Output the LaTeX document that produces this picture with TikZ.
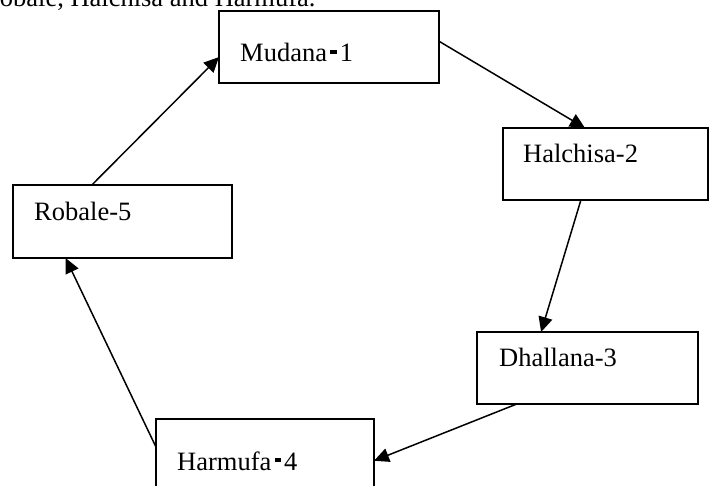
\documentclass[tikz,border=0pt]{standalone}
\usepackage{fontspec}
\setmainfont{Liberation Serif}
\usetikzlibrary{arrows.meta,calc}
\newcommand\thkdash{\kern0.12em\rule[0.3em]{0.24em}{0.15em}\kern0.12em}
\tikzset{
  boxnode/.style={draw, line width=1.8pt, anchor=north west, inner sep=0pt, outer sep=0pt},
  lbl/.style={anchor=base west, inner sep=0pt, font=\fontsize{26.5}{30}\selectfont},
  conn/.style={line width=1.5pt, -{Triangle[length=15pt,width=14pt]}}
}
\begin{document}
\begin{tikzpicture}[x=1pt,y=-1pt]
\useasboundingbox (0,0) rectangle (712,486);
\fill[white] (0,0) rectangle (712,486);
% top text, cut by the page edge as in the reference
\node[lbl] (top) at (-18,7) {Robale, Halchisa and Harmufa.};
% boxes
\node[boxnode, minimum width=220pt, minimum height=72pt] (m) at (219,11) {};
\node[boxnode, minimum width=205pt, minimum height=72pt] (h) at (503,128) {};
\node[boxnode, minimum width=221pt, minimum height=72pt] (d) at (477,332) {};
\node[boxnode, minimum width=218pt, minimum height=72pt] (hr) at (156,419) {};
\node[boxnode, minimum width=219pt, minimum height=73pt] (r) at (13,185) {};
% labels
\node[lbl] (tm) at (240,62) {Mudana\thkdash1};
\node[lbl] (th) at (523,163) {Halchisa-2};
\node[lbl] (td) at (499,366) {Dhallana-3};
\node[lbl] (thr) at (177,470) {Harmufa\thkdash4};
\node[lbl] (tr) at (34,221) {Robale-5};
% connectors
\draw[conn] ($(m.north east)!0.42!(m.south east)$) -- ($(h.north west)!0.40!(h.north east)$);
\draw[conn] ($(h.south west)!0.38!(h.south east)$) -- ($(d.north west)!0.29!(d.north east)$);
\draw[conn] ($(d.south west)!0.18!(d.south east)$) -- ($(hr.north east)!0.58!(hr.south east)$);
\draw[conn] ($(hr.north west)!0.39!(hr.south west)$) -- ($(r.south west)!0.24!(r.south east)$);
\draw[conn] ($(r.north west)!0.36!(r.north east)$) -- ($(m.north west)!0.64!(m.south west)$);
\end{tikzpicture}
\end{document}
